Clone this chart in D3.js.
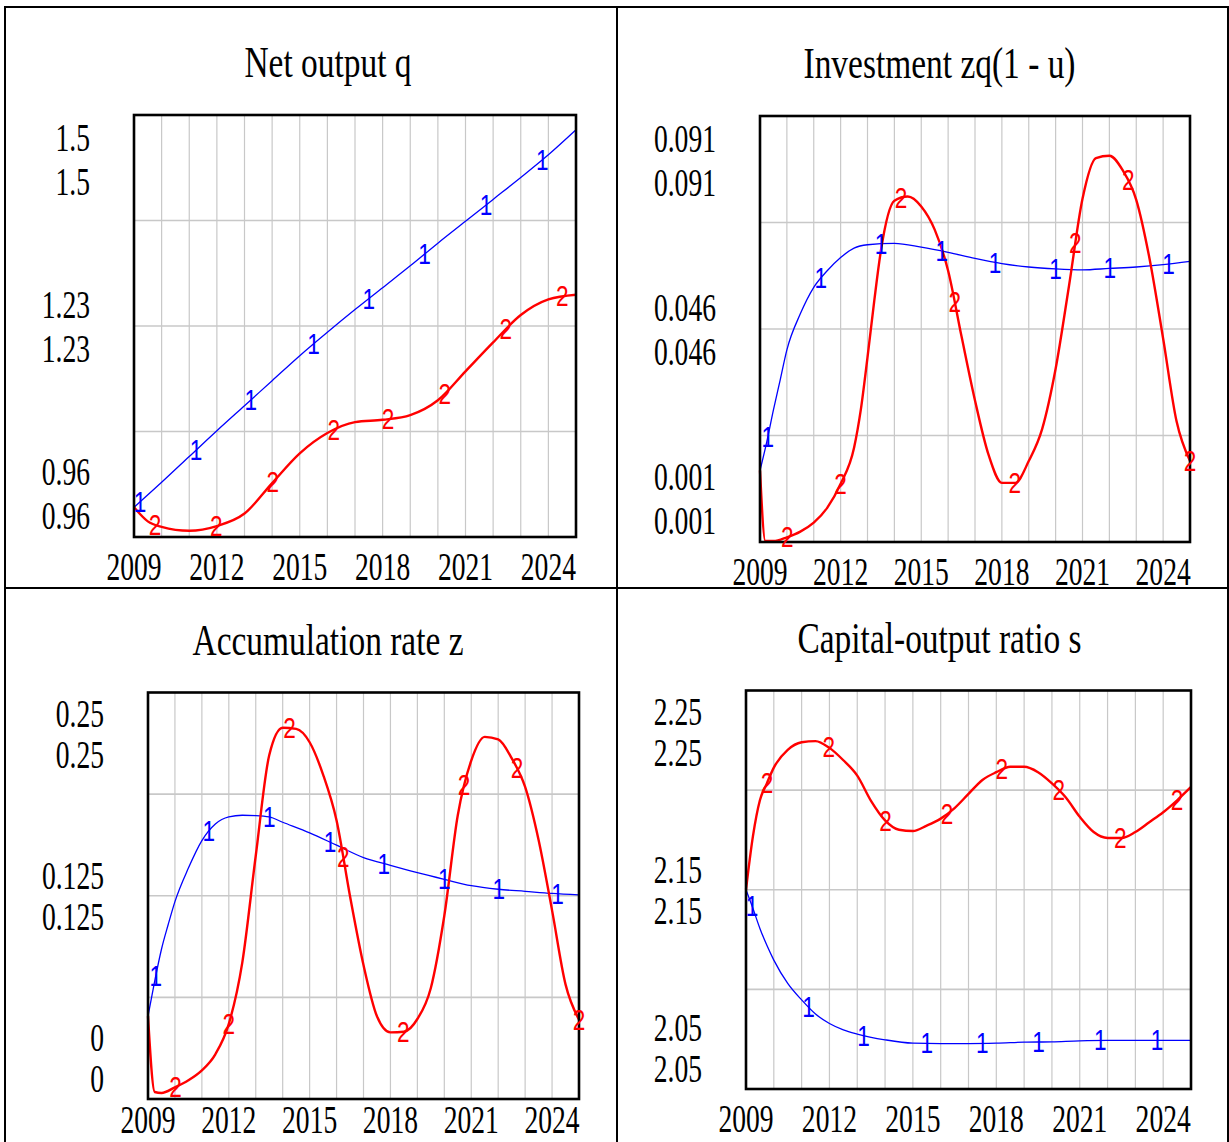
<!DOCTYPE html>
<html><head><meta charset="utf-8">
<script src="https://cdn.jsdelivr.net/npm/d3@7"></script>
<style>body{margin:0;background:#fff}svg{display:block}</style>
</head><body><svg id="c" width="1229" height="1142"></svg>
<script>
// ---------- DATA ----------
const xTickYears = [2009, 2012, 2015, 2018, 2021, 2024];
const xTickLabels = ["2009", "2012", "2015", "2018", "2021", "2024"];

// Net output q
const netOutputYLabels = ["1.5", "1.23", "0.96"];
const netOutput1Years = [2009,2010,2011,2012,2013,2014,2015,2016,2017,2018,2019,2020,2021,2022,2023,2024,2025];
const netOutput1 = [0.998,1.030,1.063,1.096,1.128,1.160,1.192,1.222,1.251,1.279,1.307,1.336,1.364,1.392,1.420,1.449,1.481];
const netOutput2Years = [2009,2009.5,2010,2011,2012,2013,2014,2015,2016,2017,2018,2019,2020,2021,2022,2023,2024,2025];
const netOutput2 = [0.998,0.980,0.973,0.968,0.974,0.990,1.029,1.067,1.093,1.107,1.110,1.116,1.135,1.172,1.209,1.244,1.264,1.270];

// Investment zq(1 - u)
const investYLabels = ["0.091", "0.046", "0.001"];
const invest1Years = [2009,2009.25,2009.5,2009.75,2010,2010.5,2011,2011.5,2012,2012.5,2013,2014,2015,2016,2017,2018,2019,2020,2021,2022,2023,2024,2025];
const invest1 = [0.0161,0.0221,0.0289,0.0352,0.0416,0.0492,0.0548,0.0583,0.0611,0.0631,0.0638,0.0641,0.0633,0.0622,0.0609,0.0598,0.0591,0.0587,0.0585,0.0588,0.0591,0.0596,0.0603];
const invest2Years = [2009,2009.2,2009.5,2010,2010.5,2011,2011.5,2012,2012.5,2012.75,2013,2013.25,2013.5,2014,2014.5,2015,2015.5,2016,2016.5,2017,2017.5,2018,2018.5,2019,2019.5,2020,2020.5,2021,2021.5,2022,2022.5,2023,2023.5,2024,2024.5,2025];
const invest2 = [0.0161,0.0012,0.0012,0.0020,0.0032,0.0051,0.0082,0.0133,0.0209,0.0289,0.0400,0.0519,0.0626,0.0731,0.0740,0.0719,0.0670,0.0583,0.0444,0.0309,0.0195,0.0135,0.0135,0.0181,0.0249,0.0376,0.0552,0.0735,0.0821,0.0826,0.0795,0.0733,0.0607,0.0440,0.0265,0.0181];

// Accumulation rate z
const accumYLabels = ["0.25", "0.125", "0"];
const accum1Years = [2009,2009.25,2009.5,2009.75,2010,2010.5,2011,2011.5,2012,2012.5,2013,2013.5,2014,2015,2016,2017,2018,2019,2020,2021,2022,2023,2024,2025];
const accum1 = [0.0510,0.0726,0.0921,0.1073,0.1214,0.1420,0.1589,0.1691,0.1735,0.1745,0.1743,0.1735,0.1702,0.1637,0.1561,0.1485,0.1437,0.1392,0.1351,0.1312,0.1290,0.1277,0.1264,0.1255];
const accum2Years = [2009,2009.25,2009.5,2010,2010.5,2011,2011.5,2012,2012.5,2013,2013.5,2014,2014.5,2015,2015.5,2016,2016.5,2017,2017.5,2018,2018.5,2019,2019.5,2020,2020.5,2021,2021.5,2022,2022.5,2023,2023.5,2024,2024.5,2025];
const accum2 = [0.0510,0.0043,0.0037,0.0072,0.0115,0.0176,0.0275,0.0462,0.0839,0.1496,0.2114,0.2283,0.2276,0.2194,0.1995,0.1713,0.1247,0.0824,0.0509,0.0410,0.0414,0.0492,0.0683,0.1127,0.1745,0.2081,0.2227,0.2211,0.2096,0.1919,0.1593,0.1160,0.0705,0.0488];

// Capital-output ratio s
const capitalYLabels = ["2.25", "2.15", "2.05"];
const capital1Years = [2009,2009.25,2009.5,2009.75,2010,2010.5,2011,2011.5,2012,2012.5,2013,2014,2015,2016,2017,2018,2019,2020,2021,2022,2023,2024,2025];
const capital1 = [2.1500,2.1406,2.1306,2.1221,2.1147,2.1030,2.0947,2.0876,2.0829,2.0797,2.0776,2.0747,2.0730,2.0728,2.0728,2.0730,2.0735,2.0737,2.0742,2.0744,2.0744,2.0744,2.0744];
const capital2Years = [2009,2009.25,2009.5,2009.75,2010,2010.5,2011,2011.5,2012,2012.5,2013,2013.5,2014,2014.5,2015,2015.5,2016,2016.5,2017,2017.5,2018,2018.5,2019,2019.5,2020,2020.5,2021,2021.5,2022,2022.5,2023,2023.5,2024,2024.5,2025];
const capital2 = [2.1500,2.1769,2.1949,2.2034,2.2113,2.2202,2.2240,2.2246,2.2212,2.2150,2.2073,2.1945,2.1848,2.1801,2.1795,2.1822,2.1857,2.1910,2.1981,2.2051,2.2090,2.2117,2.2117,2.2090,2.2034,2.1963,2.1866,2.1790,2.1760,2.1760,2.1790,2.1839,2.1889,2.1949,2.2016];

// series number markers (times where "1"/"2" labels sit)
const markersA1 = [2009.22, 2011.25, 2013.23, 2015.5, 2017.5, 2019.52, 2021.74, 2023.78];
const markersA2 = [2009.76, 2011.98, 2014.02, 2016.23, 2018.2, 2020.25, 2022.46, 2024.5];
const markersB1 = [2009.29, 2011.26, 2013.5, 2015.76, 2017.75, 2020.0, 2022.02, 2024.2];
const markersB2 = [2010.02, 2012.0, 2014.25, 2016.25, 2018.48, 2020.73, 2022.7, 2025.0];

// ---------- LAYOUT ----------
const panels = [
  {title: "Net output q", cell: [5, 617], plot: [134, 115, 576, 537], domain: [0.96, 1.5], yLabels: netOutputYLabels,
   s1: [netOutput1Years, netOutput1], s2: [netOutput2Years, netOutput2], m1: markersA1, m2: markersA2, gap: 44, tb: 43},
  {title: "Investment zq(1 - u)", cell: [617, 1228], plot: [760, 116, 1190, 542], domain: [0.001, 0.091], yLabels: investYLabels,
   s1: [invest1Years, invest1], s2: [invest2Years, invest2], m1: markersB1, m2: markersB2, gap: 44, tb: 43},
  {title: "Accumulation rate z", cell: [5, 617], plot: [148, 692.5, 579, 1099], domain: [0, 0.25], yLabels: accumYLabels,
   s1: [accum1Years, accum1], s2: [accum2Years, accum2], m1: markersB1, m2: markersB2, gap: 41, tb: 34},
  {title: "Capital-output ratio s", cell: [617, 1228], plot: [746, 690.5, 1191, 1089], domain: [2.05, 2.25], yLabels: capitalYLabels,
   s1: [capital1Years, capital1], s2: [capital2Years, capital2], m1: markersA1, m2: markersA2, gap: 41, tb: 43}
];

const svg = d3.select("#c");
const serif = "'Liberation Serif','Times New Roman',serif";
const sans = "'Liberation Sans',Arial,sans-serif";

// outer frame
svg.append("rect").attr("x", 5).attr("y", 7).attr("width", 1223).attr("height", 1150)
  .attr("fill", "none").attr("stroke", "#000").attr("stroke-width", 2);
svg.append("line").attr("x1", 617).attr("x2", 617).attr("y1", 7).attr("y2", 1142).attr("stroke", "#000").attr("stroke-width", 2);
svg.append("line").attr("x1", 5).attr("x2", 1228).attr("y1", 588).attr("y2", 588).attr("stroke", "#000").attr("stroke-width", 2);

function condText(g, x, y, str, size, sx, anchor, family, color) {
  return g.append("text")
    .attr("transform", `translate(${x},${y}) scale(${sx},1)`)
    .attr("text-anchor", anchor)
    .attr("font-family", family)
    .attr("font-size", size)
    .attr("fill", color || "#000")
    .text(str);
}

panels.forEach(p => {
  const [x0, y0, x1, y1] = p.plot;
  const g = svg.append("g");
  const x = d3.scaleLinear().domain([2009, 2025]).range([x0, x1]);
  const y = d3.scaleLinear().domain(p.domain).range([y1, y0]);

  // grid
  const years = d3.range(2010, 2025);
  g.selectAll(".vg").data(years).join("line")
    .attr("x1", d => x(d)).attr("x2", d => x(d)).attr("y1", y0).attr("y2", y1)
    .attr("stroke", "#c8c8c8").attr("stroke-width", 1.2);
  const mid = (p.domain[0] + p.domain[1]) / 2;
  const hq = [p.domain[0] + (p.domain[1] - p.domain[0]) * 0.25, mid, p.domain[0] + (p.domain[1] - p.domain[0]) * 0.75];
  g.selectAll(".hg").data(hq).join("line")
    .attr("x1", x0).attr("x2", x1).attr("y1", d => y(d)).attr("y2", d => y(d))
    .attr("stroke", "#c8c8c8").attr("stroke-width", 1.6);

  // title
  condText(g, (p.cell[0] + p.cell[1]) / 2 + 17, y0 - 38, p.title, 44, 0.76, "middle", serif);

  // x tick labels
  xTickYears.forEach((yr, i) => condText(g, x(yr), y1 + p.tb, xTickLabels[i], 40, 0.69, "middle", serif));

  // y tick labels (stacked pairs, one per series)
  const vals = [p.domain[1], mid, p.domain[0]];
  const shifts = [p.gap, 0, -p.gap];
  vals.forEach((v, i) => {
    [-p.gap / 2, p.gap / 2].forEach(off => {
      const c = y(v) + shifts[i] + off;
      condText(g, x0 - 44, c + 13.5, p.yLabels[i], 40, 0.69, "end", serif);
    });
  });

  // lines
  const line = d3.line().x(d => x(d[0])).y(d => y(d[1])).curve(d3.curveMonotoneX);
  const d1 = p.s1[0].map((t, i) => [t, p.s1[1][i]]);
  const d2 = p.s2[0].map((t, i) => [t, p.s2[1][i]]);
  const path1 = g.append("path").datum(d1).attr("d", line).attr("fill", "none").attr("stroke", "#0000ff").attr("stroke-width", 1.3);
  const path2 = g.append("path").datum(d2).attr("d", line).attr("fill", "none").attr("stroke", "#ff0000").attr("stroke-width", 2.4);

  // frame
  g.append("rect").attr("x", x0).attr("y", y0).attr("width", x1 - x0).attr("height", y1 - y0)
    .attr("fill", "none").attr("stroke", "#000").attr("stroke-width", 2.6);

  // markers
  function pointAtX(path, px) {
    const node = path.node();
    const L = node.getTotalLength();
    let lo = 0, hi = L;
    for (let k = 0; k < 40; k++) {
      const m = (lo + hi) / 2;
      if (node.getPointAtLength(m).x < px) lo = m; else hi = m;
    }
    return node.getPointAtLength((lo + hi) / 2);
  }
  [[path1, p.m1, "1", "#0000ff"], [path2, p.m2, "2", "#ff0000"]].forEach(([path, ms, lab, col]) => {
    ms.forEach(t => {
      const pt = pointAtX(path, Math.min(x(t), x1 - 0.01));
      condText(g, pt.x, pt.y + 10, lab, 29, 0.78, "middle", sans, col);
    });
  });
});
</script>
</body></html>
